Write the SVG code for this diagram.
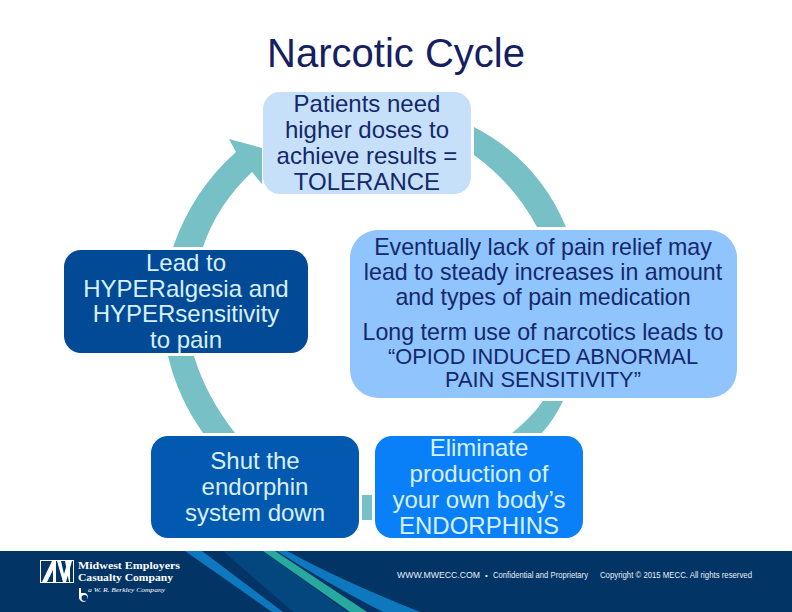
<svg xmlns="http://www.w3.org/2000/svg" width="792" height="612" viewBox="0 0 792 612">
<style>
text{font-family:"Liberation Sans",Arial,sans-serif;text-anchor:middle}
.a{fill:#76c0c6}
.t{font-size:24px}
.m{font-size:23.2px}
.dk{fill:#14286b}
.lt{fill:#d8f0ff}
.s{font-size:21.8px}
.f{fill:#e8eff6;text-anchor:start}
.l{font-family:"Liberation Serif",serif;text-anchor:start;fill:#fff}
</style>
<rect width="792" height="612" fill="#fff"/>
<text x="396" y="67" font-size="40" fill="#14205f" id="title">Narcotic Cycle</text>
<g id="connectors">
<path class="a" d="M474 127Q538 160 566 227H537Q514 184 474 155Z"/>
<path class="a" d="M173 247Q193 190 236 152L229 139L262 148V184L252 172Q217 205 203 247Z"/>
<path class="a" d="M168 356H194Q206 396 235 433H203Q178 398 168 356Z"/>
<path class="a" d="M543 401H563Q555 418 542 433H512Q531 418 543 401Z"/>
<rect class="a" x="362" y="495" width="10" height="25"/>
</g>
<g id="node-tolerance">
<rect x="263" y="92" width="208" height="102" rx="17" fill="#c6e0fa"/>
<text class="t dk" x="367" y="112">Patients need</text>
<text class="t dk" x="367" y="138">higher doses to</text>
<text class="t dk" x="367" y="164">achieve results =</text>
<text class="t dk" x="367" y="190">TOLERANCE</text>
</g>
<g id="node-hyperalgesia">
<rect x="64" y="250" width="244" height="103" rx="17" fill="#024a96"/>
<text class="t lt" x="186" y="271">Lead to</text>
<text class="t lt" x="186" y="297">HYPERalgesia and</text>
<text class="t lt" x="186" y="322">HYPERsensitivity</text>
<text class="t lt" x="186" y="348">to pain</text>
</g>
<g id="node-eventually">
<rect x="350" y="230" width="387" height="168" rx="28" fill="#90c4fc"/>
<text class="m dk" x="543" y="255">Eventually lack of pain relief may</text>
<text class="m dk" x="543" y="280">lead to steady increases in amount</text>
<text class="m dk" x="543" y="305">and types of pain medication</text>
<text class="m dk" x="543" y="340">Long term use of narcotics leads to</text>
<text class="s dk" x="543" y="364">“OPIOD INDUCED ABNORMAL</text>
<text class="s dk" x="543" y="387">PAIN SENSITIVITY”</text>
</g>
<g id="node-shut">
<rect x="151" y="436" width="208" height="102" rx="17" fill="#0358b0"/>
<text class="t lt" x="255" y="469">Shut the</text>
<text class="t lt" x="255" y="495">endorphin</text>
<text class="t lt" x="255" y="521">system down</text>
</g>
<g id="node-eliminate">
<rect x="375" y="436" width="208" height="102" rx="17" fill="#0a80f8"/>
<text class="t lt" x="479" y="456">Eliminate</text>
<text class="t lt" x="479" y="482">production of</text>
<text class="t lt" x="479" y="508">your own body’s</text>
<text class="t lt" x="479" y="534">ENDORPHINS</text>
</g>
<g id="footer">
<rect y="551" width="792" height="61" fill="#023466"/>
<path d="M223 551H263L347 612H293Z" fill="#04477f"/>
<path d="M185 551H202L283 612H272Z" fill="#0d78be"/>
<path d="M277 551H287Q340 580 420 612H383Q330 585 277 551Z" fill="#0d78be"/>
<path d="M263 551H275L367 612H350Z" fill="#28a9a0"/>
<rect x="40.500" y="560.500" width="33" height="22" fill="none" stroke="#fff"/>
<path fill="#fff" d="M42 582L52 561H56V582H53V570L47 582ZM57 561H61L64 574L68 561H72L66 582H63ZM65 561H69L70 566V582H69Z"/>
<text class="l" x="78" y="568.500" font-size="11" font-weight="bold" textLength="102" lengthAdjust="spacingAndGlyphs">Midwest Employers</text>
<text class="l" x="78" y="581" font-size="11" font-weight="bold" textLength="95" lengthAdjust="spacingAndGlyphs">Casualty Company</text>
<text class="l" x="88" y="591.500" font-size="6" font-style="italic" textLength="77" lengthAdjust="spacingAndGlyphs">a W. R. Berkley Company</text>
<path fill="#fff" fill-rule="evenodd" d="M79 588H81V593H85A4.500 4.500 0 1 1 79 598ZM84.500 595A3 3 0 1 0 84.500 601A3 3 0 1 0 84.500 595Z"/>
<text class="f" x="397" y="578" font-size="9" textLength="83" lengthAdjust="spacingAndGlyphs">WWW.MWECC.COM</text>
<text class="f" x="485" y="578" font-size="8">•</text>
<text class="f" x="493" y="578" font-size="8.200" textLength="95" lengthAdjust="spacingAndGlyphs">Confidential and Proprietary</text>
<text class="f" x="600" y="578" font-size="8.200" textLength="152" lengthAdjust="spacingAndGlyphs">Copyright © 2015 MECC.  All rights reserved</text>
</g>
</svg>
